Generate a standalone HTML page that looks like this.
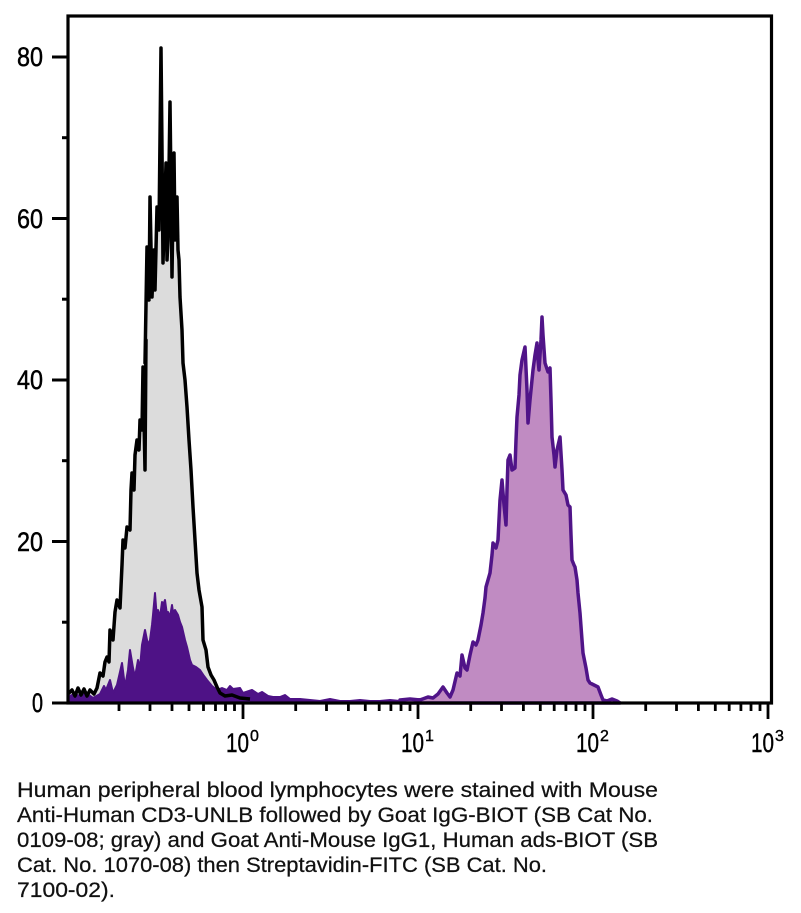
<!DOCTYPE html>
<html><head><meta charset="utf-8"><style>
html,body{margin:0;padding:0;background:#fff;}
svg{display:block;}
</style></head><body>
<svg width="801" height="913" viewBox="0 0 801 913" xmlns="http://www.w3.org/2000/svg">
<rect width="801" height="913" fill="#fff"/>
<!-- gray histogram fill -->
<polygon fill="#dcdcdc" stroke="none" points="68,703 68,694 72,690 75,696 78,688 81,695 84,689 87,696 90,690 94,694 97,688 100,673 103,676 107,657 109,662 110,630 113,640 117,600 120,608 123,540 125,548 127,527 130,530 132,473 134,490 137,440 139,450 140,420 142,430 143,367 145,470 146,340 145,363 147,247 149,300 150,197 152,297 154,250 157,207 159,230 161,48 162,150 163,263 165,200 166,163 168,240 170,102 172,277 173,200 174,153 176,220 177,197 179,260 180,297 182,330 183,363 185,380 187,407 189,440 191,470 193,507 195,540 197,573 199,590 202,607 203,640 206,650 208,667 211,675 214,680 217,687 220,693 225,696 232,695 240,698 250,699 260,700 270,701 280,702 290,703"/>
<!-- dark purple small peak -->
<polygon fill="#4e1286" stroke="#4e1286" stroke-width="2" stroke-linejoin="round" points="68,703 68,697 74,694 80,696 86,693 93,698 100,694 104,686 106,690 110,680 113,693 117,685 120,672 122,663 125,687 128,670 130,650 133,668 135,677 138,660 140,668 142,645 145,630 148,645 150,640 152,625 153,615 155,593 157,620 158,610 160,617 162,602 163,605 165,600 167,615 168,612 170,617 172,605 173,612 175,610 178,615 180,622 182,627 185,640 187,647 190,660 192,665 196,667 200,670 204,676 207,680 212,686 217,690 222,688 227,690 230,686 233,689 240,688 243,693 246,692 252,690 258,694 262,692 268,696 273,697 280,697 285,695 290,699 300,699 310,700 320,701 330,699 340,701 350,701 360,700 370,701 380,701 390,700 400,701 410,700 420,699 430,698 440,703"/>
<!-- gray outline -->
<polyline fill="none" stroke="#000" stroke-width="3.5" stroke-linejoin="round" points="68,694 72,690 75,696 78,688 81,695 84,689 87,696 90,690 94,694 97,688 100,673 103,676 105,662 107,657 109,662 110,630 113,640 115,612 117,600 120,608 122,565 123,540 125,548 127,527 130,530 131,490 132,473 134,490 135,455 137,440 139,450 140,420 142,430 143,367 145,470 146,340 145,363 147,247 149,300 150,197 152,297 154,250 155,290 157,207 159,230 161,48 162,150 163,263 164,230 165,200 166,163 167,260 168,240 170,102 172,277 173,200 174,153 175,240 176,220 177,197 178,250 179,260 180,297 182,330 183,363 185,380 187,407 189,440 191,470 193,507 195,540 197,573 199,590 202,607 203,640 206,650 208,667 211,675 214,680 217,687 220,693 225,696 232,695 240,698 250,699"/>
<!-- big purple peak -->
<polygon fill="#c08bc2" stroke="#501488" stroke-width="3.5" stroke-linejoin="round" points="400,703 400,700 410,699 420,700 428,697 433,698 438,694 443,687 447,693 450,697 453,690 457,673 460,676 462,655 465,668 467,670 470,655 473,642 476,645 478,640 481,625 483,613 485,598 486,587 488,580 490,573 492,555 493,543 496,548 498,540 500,500 502,480 504,505 506,525 507,490 508,460 510,455 512,470 515,468 516,440 517,417 519,395 520,375 522,360 525,347 527,390 528,423 530,400 533,370 535,355 537,343 538,360 539,370 541,340 542,317 543,335 545,363 548,372 550,368 551,400 552,437 554,455 555,467 557,450 560,437 562,470 563,490 566,495 568,505 570,507 571,535 572,560 574,565 575,567 577,580 578,593 580,613 582,640 583,653 586,668 588,680 590,683 594,685 598,687 601,695 603,700 607,701 612,699 617,701 620,703"/>
<!-- frame -->
<rect x="68" y="16" width="703.5" height="687" fill="none" stroke="#000" stroke-width="3.2"/>
<!-- y ticks -->
<g stroke="#000" stroke-width="3">
<line x1="52" y1="57" x2="68" y2="57"/>
<line x1="52" y1="218.5" x2="68" y2="218.5"/>
<line x1="52" y1="380" x2="68" y2="380"/>
<line x1="52" y1="541.5" x2="68" y2="541.5"/>
<line x1="52" y1="703" x2="68" y2="703"/>
<line x1="62" y1="137.7" x2="68" y2="137.7"/>
<line x1="62" y1="299.2" x2="68" y2="299.2"/>
<line x1="62" y1="460.7" x2="68" y2="460.7"/>
<line x1="62" y1="622.2" x2="68" y2="622.2"/>
</g>
<!-- x ticks -->
<g stroke="#000" stroke-width="2.8">
<line x1="243" y1="703" x2="243" y2="719"/>
<line x1="418" y1="703" x2="418" y2="719"/>
<line x1="593" y1="703" x2="593" y2="719"/>
<line x1="768" y1="703" x2="768" y2="719"/>
<line x1="119" y1="703" x2="119" y2="711"/><line x1="150" y1="703" x2="150" y2="711"/><line x1="172" y1="703" x2="172" y2="711"/><line x1="189" y1="703" x2="189" y2="711"/><line x1="203.5" y1="703" x2="203.5" y2="711"/><line x1="215.5" y1="703" x2="215.5" y2="711"/><line x1="225.5" y1="703" x2="225.5" y2="711"/><line x1="234.5" y1="703" x2="234.5" y2="711"/>
<line x1="295.7" y1="703" x2="295.7" y2="711"/><line x1="326.5" y1="703" x2="326.5" y2="711"/><line x1="348.4" y1="703" x2="348.4" y2="711"/><line x1="365.3" y1="703" x2="365.3" y2="711"/><line x1="379.2" y1="703" x2="379.2" y2="711"/><line x1="390.9" y1="703" x2="390.9" y2="711"/><line x1="401" y1="703" x2="401" y2="711"/><line x1="410" y1="703" x2="410" y2="711"/>
<line x1="470.7" y1="703" x2="470.7" y2="711"/><line x1="501.5" y1="703" x2="501.5" y2="711"/><line x1="523.4" y1="703" x2="523.4" y2="711"/><line x1="540.3" y1="703" x2="540.3" y2="711"/><line x1="554.2" y1="703" x2="554.2" y2="711"/><line x1="565.9" y1="703" x2="565.9" y2="711"/><line x1="576" y1="703" x2="576" y2="711"/><line x1="585" y1="703" x2="585" y2="711"/>
<line x1="645.7" y1="703" x2="645.7" y2="711"/><line x1="676.5" y1="703" x2="676.5" y2="711"/><line x1="698.4" y1="703" x2="698.4" y2="711"/><line x1="715.3" y1="703" x2="715.3" y2="711"/><line x1="729.2" y1="703" x2="729.2" y2="711"/><line x1="740.9" y1="703" x2="740.9" y2="711"/><line x1="751" y1="703" x2="751" y2="711"/><line x1="760" y1="703" x2="760" y2="711"/>
</g>
<!-- y labels -->
<g font-family="Liberation Sans, sans-serif" font-size="27" fill="#000" stroke="#000" stroke-width="0.5" text-anchor="end">
<text x="43" y="66" textLength="26" lengthAdjust="spacingAndGlyphs">80</text>
<text x="43" y="228" textLength="26" lengthAdjust="spacingAndGlyphs">60</text>
<text x="43" y="389" textLength="26" lengthAdjust="spacingAndGlyphs">40</text>
<text x="43" y="551" textLength="26" lengthAdjust="spacingAndGlyphs">20</text>
<text x="43" y="712" textLength="11" lengthAdjust="spacingAndGlyphs">0</text>
</g>
<!-- x labels -->
<g font-family="Liberation Sans, sans-serif" fill="#000" stroke="#000" stroke-width="0.4">
<text x="226" y="752" font-size="27" textLength="23" lengthAdjust="spacingAndGlyphs">10</text><text x="250" y="741" font-size="16">0</text>
<text x="401" y="752" font-size="27" textLength="23" lengthAdjust="spacingAndGlyphs">10</text><text x="425" y="741" font-size="16">1</text>
<text x="576" y="752" font-size="27" textLength="23" lengthAdjust="spacingAndGlyphs">10</text><text x="600" y="741" font-size="16">2</text>
<text x="751" y="752" font-size="27" textLength="23" lengthAdjust="spacingAndGlyphs">10</text><text x="775" y="741" font-size="16">3</text>
</g>
<!-- caption -->
<g font-family="Liberation Sans, sans-serif" font-size="21.5" fill="#111" stroke="#111" stroke-width="0.25">
<text x="17" y="797" textLength="641" lengthAdjust="spacingAndGlyphs">Human peripheral blood lymphocytes were stained with Mouse</text>
<text x="17" y="822" textLength="636" lengthAdjust="spacingAndGlyphs">Anti-Human CD3-UNLB followed by Goat IgG-BIOT (SB Cat  No.</text>
<text x="17" y="847" textLength="641" lengthAdjust="spacingAndGlyphs">0109-08; gray) and Goat Anti-Mouse IgG1, Human ads-BIOT (SB</text>
<text x="17" y="872" textLength="530" lengthAdjust="spacingAndGlyphs">Cat. No. 1070-08) then Streptavidin-FITC (SB Cat. No.</text>
<text x="17" y="897" textLength="98" lengthAdjust="spacingAndGlyphs">7100-02).</text>
</g>
</svg>
</body></html>
